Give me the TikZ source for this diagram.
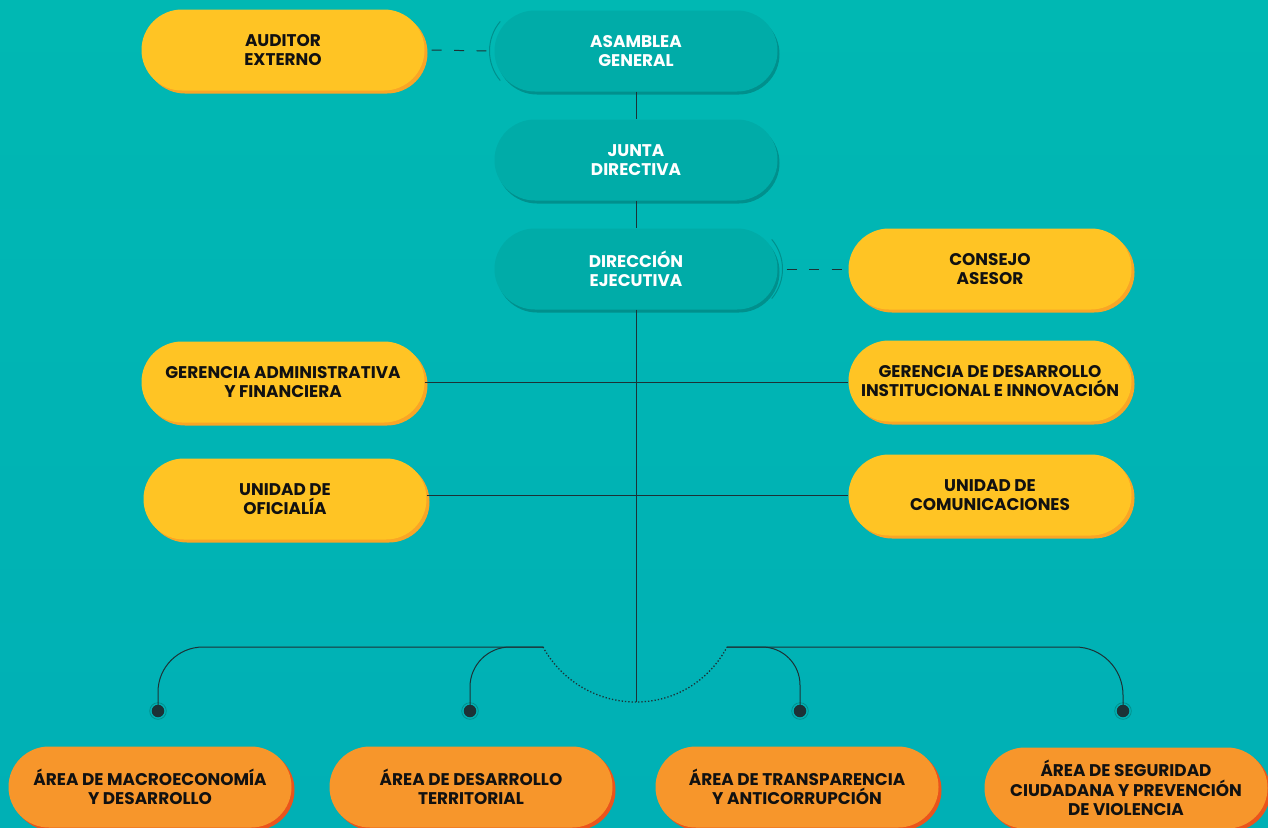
\documentclass[tikz,border=0pt]{standalone}
\usepackage{fontspec}
\setmainfont{Poppins}
\usetikzlibrary{shapes.misc,shadows}
\definecolor{bgtop}{HTML}{00B8B3}
\definecolor{bgbot}{HTML}{00B0B5}
\definecolor{tealbox}{HTML}{00ACA8}
\definecolor{tealshadow}{HTML}{00908D}
\definecolor{yel}{HTML}{FFC424}
\definecolor{yelshadow}{HTML}{F9A526}
\definecolor{org}{HTML}{F7962B}
\definecolor{orgshadow}{HTML}{EA541C}
\definecolor{linecol}{HTML}{1C3236}
\definecolor{txt}{HTML}{111111}
\tikzset{
  pill/.style={rounded rectangle, minimum width=283pt, minimum height=81pt, inner sep=0pt, align=center,
    font=\bfseries\fontsize{16.9}{19.5}\selectfont},
  tealpill/.style={pill, fill=tealbox, text=white,
    general shadow={shadow xshift=2pt, shadow yshift=-3pt, fill=tealshadow}},
  yelpill/.style={pill, fill=yel, text=txt,
    general shadow={shadow xshift=3pt, shadow yshift=-3pt, fill=yelshadow}},
  orgpill/.style={pill, fill=org, text=txt,
    general shadow={shadow xshift=3pt, shadow yshift=-3pt, fill=orgshadow}},
  conn/.style={draw=linecol, line width=1pt},
  dashconn/.style={draw=linecol, line width=1pt, dash pattern=on 10pt off 12.5pt},
  dotconn/.style={draw=linecol, line width=1.3pt, dash pattern=on 1.3pt off 2pt},
  echo/.style={draw=tealshadow, line width=1pt},
  enddot/.style={circle, fill=linecol, minimum size=12.5pt, inner sep=0pt},
  dotring/.style={draw=tealshadow, line width=0.8pt},
}
\begin{document}
\begin{tikzpicture}[x=1pt,y=-1pt]
\shade[top color=bgtop, bottom color=bgbot] (0,0) rectangle (1268,827);
\useasboundingbox (0,0) rectangle (1268,827);
\begin{scope}
\clip (0,0) rectangle (1268,827);
% boxes
\node[yelpill] (aud) at (283,50) {AUDITOR\\EXTERNO};
\node[tealpill] (asm) at (636,51) {ASAMBLEA\\GENERAL};
\node[tealpill] (jun) at (636,160) {JUNTA\\DIRECTIVA};
\node[tealpill] (dir) at (636,269) {DIRECCIÓN\\EJECUTIVA};
\node[yelpill] (con) at (990,269) {CONSEJO\\ASESOR};
\node[yelpill] (gaf) at (283,382) {GERENCIA ADMINISTRATIVA\\Y FINANCIERA};
\node[yelpill] (gdi) at (990,381) {GERENCIA DE DESARROLLO\\INSTITUCIONAL E INNOVACIÓN};
\node[yelpill] (uof) at (285,499) {UNIDAD DE\\OFICIALÍA};
\node[yelpill] (uco) at (990,495) {UNIDAD DE\\COMUNICACIONES};
\node[orgpill] (amd) at (150,787) {ÁREA DE MACROECONOMÍA\\Y DESARROLLO};
\node[orgpill] (adt) at (471,787) {ÁREA DE DESARROLLO\\TERRITORIAL};
\node[orgpill] (atr) at (797,787) {ÁREA DE TRANSPARENCIA\\Y ANTICORRUPCIÓN};
\node[orgpill] (asc) at (1126,788) {ÁREA DE SEGURIDAD\\CIUDADANA Y PREVENCIÓN\\DE VIOLENCIA};
% echo arcs
\coordinate (asmcap) at (535.5,51);
\draw[echo] (asmcap) ++(140:46pt) arc[start angle=140, end angle=220, radius=46pt];
\coordinate (dircap) at (736.5,269);
\draw[echo] (dircap) ++(-40:46pt) arc[start angle=-40, end angle=40, radius=46pt];
% vertical spine
\coordinate (jb) at (636,702);
\coordinate (jl) at (543,647);
\coordinate (jr) at (727,647);
\draw[conn] (asm.south) -- (jun.north);
\draw[conn] (jun.south) -- (dir.north);
\draw[conn] (dir.south) -- (jb);
% horizontals
\draw[conn] (gaf.east) -- (gaf.east -| gdi.west);
\draw[conn] (uof.east |- uco.west) -- (uco.west);
% dashed
\draw[dashconn, shorten <=7pt, shorten >=8pt] (aud.east) -- (asm.west);
\draw[dashconn, shorten <=9pt, shorten >=6pt] (dir.east) -- (con.west);
% dotted arc
\draw[dotconn] (jl) .. controls (561.6,681) and (597.3,702) .. (jb) .. controls (674.5,702) and (709,681) .. (jr);
% branches
\node[enddot] (d1) at (158,711) {};
\node[enddot] (d2) at (470,711) {};
\node[enddot] (d3) at (800,711) {};
\node[enddot] (d4) at (1123,711) {};
\foreach \d in {d1,d2,d3,d4} \draw[dotring] (\d) circle (8.3pt);
\draw[conn, rounded corners=45pt] (d1.center) |- (jl);
\draw[conn, rounded corners=40pt] (d2.center) |- (jl);
\draw[conn, rounded corners=38pt] (d3.center) |- (jr);
\draw[conn, rounded corners=48pt] (d4.center) |- (jr);
\end{scope}
\end{tikzpicture}
\end{document}
